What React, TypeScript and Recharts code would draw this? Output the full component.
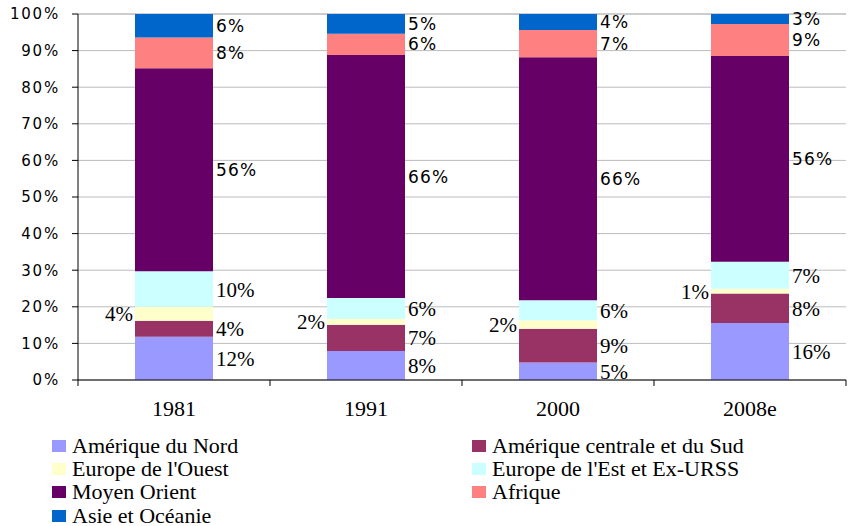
import { BarChart, Bar, XAxis, YAxis, CartesianGrid, LabelList } from "recharts";

const years = ["1981", "1991", "2000", "2008e"];

const ameriqueNord = [11.8, 7.9, 4.8, 15.6];
const ameriqueSud = [4.4, 7.2, 9.2, 8.0];
const europeOuest = [3.8, 1.6, 2.3, 1.3];
const europeEst = [9.7, 5.7, 5.5, 7.4];
const moyenOrient = [55.5, 66.4, 66.4, 56.2];
const afrique = [8.4, 5.8, 7.4, 8.8];
const asie = [6.4, 5.4, 4.4, 2.7];

const yTicks = [0, 10, 20, 30, 40, 50, 60, 70, 80, 90, 100];

const SERIF = "'Liberation Serif', 'Times New Roman', serif";
const SANS = "'DejaVu Sans', Verdana, sans-serif";

const W = 849;
const H = 526;
const PLOT_LEFT = 78;
const PLOT_RIGHT = 3;
const HALF_BAND = (W - PLOT_LEFT - PLOT_RIGHT) / years.length / 2;

const series = [
  { key: "nord", name: "Amérique du Nord", values: ameriqueNord, color: "#9999FF", side: "right", font: SERIF },
  { key: "sud", name: "Amérique centrale et du Sud", values: ameriqueSud, color: "#993366", side: "right", font: SERIF },
  { key: "ouest", name: "Europe de l'Ouest", values: europeOuest, color: "#FFFFCC", side: "left", font: SERIF },
  { key: "est", name: "Europe de l'Est et Ex-URSS", values: europeEst, color: "#CCFFFF", side: "right", font: SERIF },
  { key: "moyen", name: "Moyen Orient", values: moyenOrient, color: "#660066", side: "right", font: SANS },
  { key: "afrique", name: "Afrique", values: afrique, color: "#FF8080", side: "right", font: SANS },
  { key: "asie", name: "Asie et Océanie", values: asie, color: "#0066CC", side: "right", font: SANS },
];

const data = years.map((year, i) => {
  const row: Record<string, string | number> = { year };
  series.forEach((s) => {
    row[s.key] = s.values[i];
  });
  return row;
});

function makeLabel(side: string, font: string) {
  // eslint-disable-next-line @typescript-eslint/no-explicit-any
  return (props: any) => {
    const { x, y, width, height, value } = props;
    const cy = Number(y) + Number(height) / 2;
    const isSerif = font === SERIF;
    const tx = side === "left" ? Number(x) - 2 : Number(x) + Number(width) + 3;
    return (
      <text
        x={tx}
        y={cy}
        dy="0.36em"
        textAnchor={side === "left" ? "end" : "start"}
        fontFamily={font}
        fontSize={isSerif ? 21 : 17}
        letterSpacing={isSerif ? 0 : 1.2}
        fill="#000"
      >
        {Math.round(Number(value))}%
      </text>
    );
  };
}

// eslint-disable-next-line @typescript-eslint/no-explicit-any
function YearTick(props: any) {
  const { x, y, payload, index } = props;
  return (
    <g>
      <text x={x} y={y} dy={36} textAnchor="middle" fontFamily={SERIF} fontSize={22} fill="#000">
        {payload.value}
      </text>
      {index === 0 && <line x1={x - HALF_BAND} x2={x - HALF_BAND} y1={y} y2={y + 6} stroke="#000" />}
      <line x1={x + HALF_BAND} x2={x + HALF_BAND} y1={y} y2={y + 6} stroke="#000" />
    </g>
  );
}

export default function App() {
  return (
    <div style={{ position: "relative", width: W, height: H, background: "#fff" }}>
      <style>{`body{margin:0}`}</style>
      <BarChart
        width={W}
        height={H}
        data={data}
        margin={{ top: 14, right: PLOT_RIGHT, bottom: 106, left: 0 }}
      >
        <CartesianGrid vertical={false} stroke="#bcbcbc" />
        <XAxis
          dataKey="year"
          height={40}
          tickLine={false}
          tickSize={0}
          tickMargin={0}
          axisLine={{ stroke: "#000" }}
          tick={<YearTick />}
          interval={0}
        />
        <YAxis
          width={PLOT_LEFT}
          domain={[0, 100]}
          ticks={yTicks}
          tickFormatter={(v: number) => `${v}%`}
          tickSize={6}
          tickMargin={12}
          axisLine={{ stroke: "#000" }}
          tickLine={{ stroke: "#000" }}
          tick={{ fill: "#000", fontFamily: SANS, fontSize: 15, letterSpacing: 1.8 }}
          interval={0}
        />
        {series.map((s) => (
          <Bar
            key={s.key}
            dataKey={s.key}
            name={s.name}
            stackId="a"
            fill={s.color}
            barSize={78}
            isAnimationActive={false}
          >
            <LabelList dataKey={s.key} content={makeLabel(s.side, s.font)} />
          </Bar>
        ))}
      </BarChart>
      <div
        style={{
          position: "absolute",
          left: 52,
          top: 434,
          display: "grid",
          gridTemplateColumns: "420px 360px",
          gridAutoRows: "23.3px",
          fontFamily: SERIF,
          fontSize: 22,
          color: "#000",
        }}
      >
        {series.map((s) => (
          <div key={s.key} style={{ display: "flex", alignItems: "center", whiteSpace: "nowrap" }}>
            <span style={{ width: 14, height: 12, background: s.color, marginRight: 6, flexShrink: 0 }} />
            <span>{s.name}</span>
          </div>
        ))}
      </div>
    </div>
  );
}
